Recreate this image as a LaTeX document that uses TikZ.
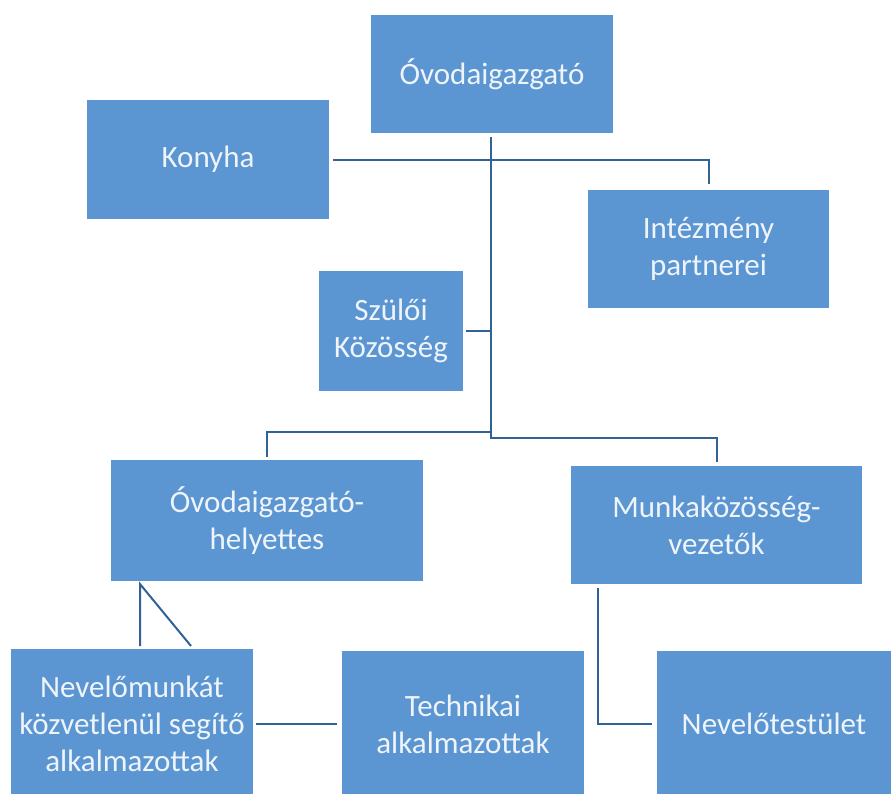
\documentclass[tikz,border=0pt]{standalone}
\usepackage{fontspec}
\setmainfont{Carlito}
\definecolor{boxblue}{RGB}{91,150,210}
\definecolor{linecol}{RGB}{48,98,148}
\definecolor{txt}{RGB}{238,244,250}
\begin{document}
\begin{tikzpicture}[x=1pt,y=-1pt,
  box/.style={fill=boxblue, draw=none, text=txt, align=center, inner sep=0pt,
    font=\fontsize{31}{37}\selectfont},
  conn/.style={draw=linecol, line width=2pt}]
\useasboundingbox (0,0) rectangle (891,793);
\clip (0,0) rectangle (891,793);
\node[box, minimum width=242, minimum height=118] (dir) at (492,74) {Óvodaigazgató};
\node[box, minimum width=242, minimum height=119] (kon) at (208,159.5) {Konyha};
\node[box, minimum width=241, minimum height=118] (part) at (708.5,249) {Intézmény\\partnerei};
\node[box, minimum width=144, minimum height=120] (szul) at (391,331) {Szülői\\Közösség};
\node[box, minimum width=312, minimum height=121] (hely) at (267,520.5) {Óvodaigazgató-\\helyettes};
\node[box, minimum width=291, minimum height=118] (munka) at (716.5,525) {Munkaközösség-\\vezetők};
\node[box, minimum width=242, minimum height=150] (nev) at (132,724) {Nevelőmunkát\\közvetlenül segítő\\alkalmazottak};
\node[box, minimum width=242, minimum height=146] (tech) at (463,724) {Technikai\\alkalmazottak};
\node[box, minimum width=234, minimum height=146] (nt) at (774,724) {Nevelőtestület};
% junction coordinates
\coordinate (jtop) at (491,137);
\coordinate (jk) at (491,159.5);
\coordinate (js) at (491,331);
\coordinate (jb1) at (491,432);
\coordinate (jb2) at (491,438);
\coordinate (apex) at (140,584);
\coordinate (tl) at (140,646);
\coordinate (tr) at (191,646);
\coordinate (mk) at (598,588);
% connectors
\draw[conn] (jtop) -- (jb2);
\draw[conn] ([xshift=4pt]kon.east) -| ([yshift=6pt]part.north);
\draw[conn] ([xshift=3pt]szul.east) -- (js);
\draw[conn] ([yshift=3pt]hely.north) |- (jb1) -- (jb2) -| ([yshift=4pt]munka.north);
\draw[conn] (tl) -- (apex) -- (tr);
\draw[conn] ([xshift=3pt]nev.east) -- ([xshift=-5pt]tech.west);
\draw[conn] (mk) |- ([xshift=-5pt]nt.west);
\end{tikzpicture}
\end{document}
